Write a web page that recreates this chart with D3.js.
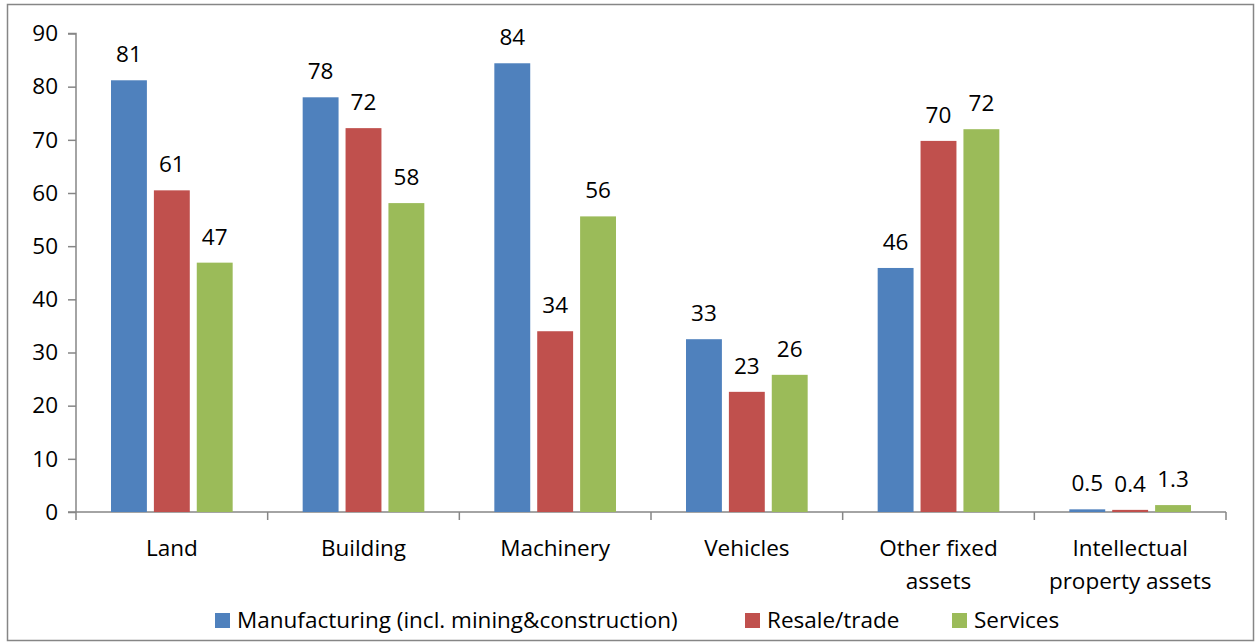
<!DOCTYPE html>
<html>
<head>
<meta charset="utf-8">
<script src="https://cdn.jsdelivr.net/npm/d3@7"></script>
<style>
body { margin: 0; background: #fff; }
text { font-family: "Open Sans", sans-serif; fill: #000; }
</style>
</head>
<body>
<svg class="chart"></svg>
<script>
var categories = [["Land"], ["Building"], ["Machinery"], ["Vehicles"], ["Other fixed", "assets"], ["Intellectual", "property assets"]];
var seriesNames = ["Manufacturing (incl. mining&construction)", "Resale/trade", "Services"];
var manufacturing = [81.2, 78.0, 84.4, 32.5, 45.9, 0.5];
var resale = [60.5, 72.2, 34.0, 22.6, 69.8, 0.4];
var services = [46.9, 58.1, 55.6, 25.8, 72.0, 1.3];
var labels = [["81", "78", "84", "33", "46", "0.5"], ["61", "72", "34", "23", "70", "0.4"], ["47", "58", "56", "26", "72", "1.3"]];
var yTicks = [0, 10, 20, 30, 40, 50, 60, 70, 80, 90];
var colors = ["#4F81BD", "#C0504D", "#9BBB59"];

var series = [manufacturing, resale, services];

var W = 1257, H = 644;
var margin = {top: 33.5, left: 76, right: 31, bottom: 132};
var width = W - margin.left - margin.right,
    height = H - margin.top - margin.bottom;
var fs = "22.5px";

var svg = d3.select(".chart").attr("width", W).attr("height", H);

// outer frame
svg.append("rect")
    .attr("x", 7.5).attr("y", 4.5)
    .attr("width", 1246).attr("height", 636)
    .attr("fill", "none")
    .attr("stroke", "#868686")
    .attr("stroke-width", 1.5);

var chart = svg.append("g")
    .attr("transform", "translate(" + margin.left + "," + margin.top + ")");

var x0 = d3.scaleBand().domain(d3.range(categories.length)).range([0, width]);
var x1 = d3.scaleBand().domain(d3.range(series.length))
    .range([35, x0.bandwidth() - 35]).paddingInner(0.163);
var y = d3.scaleLinear().domain([0, 90]).range([height, 0]);

// y axis
var yAxis = d3.axisLeft(y).tickValues(yTicks).tickSize(8).tickPadding(10);
var gy = chart.append("g").call(yAxis);
gy.select(".domain").attr("stroke", "#868686").attr("stroke-width", 1.5).attr("d", "M0," + height + "V0H-8M0," + height);
gy.selectAll(".tick line").attr("stroke", "#868686").attr("stroke-width", 1.5);
gy.selectAll(".tick text").style("font-size", fs).style("font-family", "'Open Sans', sans-serif").attr("fill", "#000");

// x axis line + ticks at band edges
chart.append("line")
    .attr("x1", -8).attr("x2", width)
    .attr("y1", height).attr("y2", height)
    .attr("stroke", "#868686").attr("stroke-width", 1.5);
chart.selectAll(".xtick")
    .data(d3.range(categories.length + 1))
  .enter().append("line")
    .attr("x1", d => d * x0.step()).attr("x2", d => d * x0.step())
    .attr("y1", height).attr("y2", height + 8)
    .attr("stroke", "#868686").attr("stroke-width", 1.5);

// bars
var groups = chart.selectAll(".grp")
    .data(categories)
  .enter().append("g")
    .attr("transform", (d, i) => "translate(" + x0(i) + ",0)");

series.forEach(function(vals, s) {
  groups.append("rect")
      .attr("x", x1(s))
      .attr("width", x1.bandwidth())
      .attr("y", (d, i) => y(vals[i]))
      .attr("height", (d, i) => height - y(vals[i]))
      .attr("fill", colors[s]);

  groups.append("text")
      .attr("x", x1(s) + x1.bandwidth() / 2)
      .attr("y", (d, i) => y(vals[i]) - 18)
      .attr("text-anchor", "middle")
      .style("font-size", fs)
      .text((d, i) => labels[s][i]);
});

// category labels
groups.append("text")
    .attr("x", x0.bandwidth() / 2)
    .attr("y", height + 44)
    .attr("text-anchor", "middle")
    .style("font-size", fs)
    .selectAll("tspan")
    .data(d => d)
  .enter().append("tspan")
    .attr("x", x0.bandwidth() / 2)
    .attr("dy", (d, i) => i ? 33 : 0)
    .text(d => d);

// legend
var legendX = [215, 745, 952];
var legend = svg.selectAll(".legend")
    .data(seriesNames)
  .enter().append("g")
    .attr("transform", (d, i) => "translate(" + legendX[i] + ",613)");
legend.append("rect")
    .attr("width", 15).attr("height", 15)
    .attr("fill", (d, i) => colors[i]);
legend.append("text")
    .attr("x", 22).attr("y", 15)
    .style("font-size", fs)
    .text(d => d);
</script>
</body>
</html>
